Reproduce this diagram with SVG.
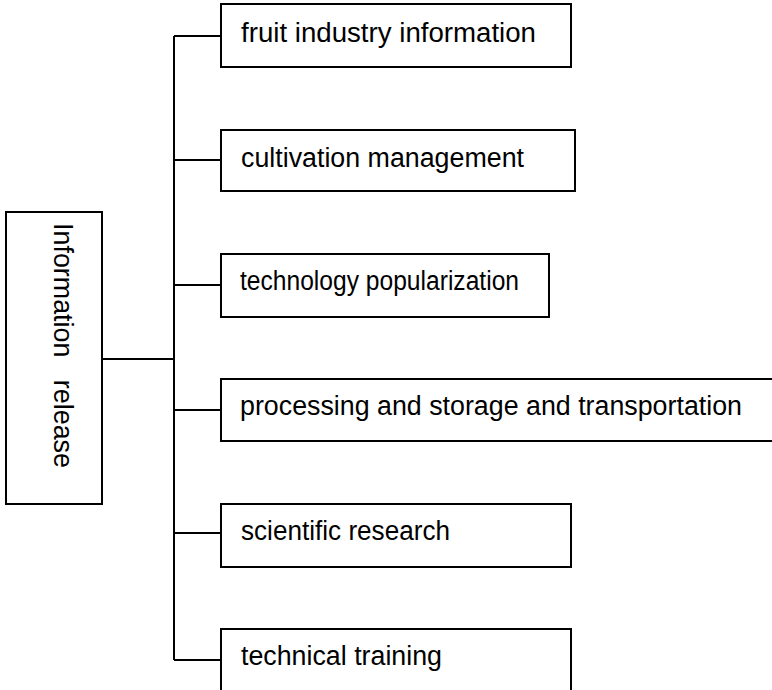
<svg xmlns="http://www.w3.org/2000/svg" width="772" height="690" viewBox="0 0 772 690">
<style>
.box{fill:#fff;stroke:#000;stroke-width:2}
.con{fill:none;stroke:#000;stroke-width:2}
.t{font-family:"Liberation Sans",Arial,sans-serif;font-size:27px;fill:#000}
</style>
<rect width="772" height="690" fill="#fff"/>
<g id="connectors">
<path class="con" d="M102,359H174M174,36V660M174,36H221M174,160H221M174,285H221M174,410H221M174,533H221M174,660H221"/>
</g>
<g id="root">
<rect class="box" x="6" y="212" width="96" height="292"/>
<text class="t" xml:space="preserve" transform="translate(54,223) rotate(90)" textLength="245" lengthAdjust="spacingAndGlyphs">Information   release</text>
</g>
<g id="n1">
<rect class="box" x="221" y="4" width="350" height="63"/>
<text class="t" x="241" y="42" textLength="295" lengthAdjust="spacingAndGlyphs">fruit industry information</text>
</g>
<g id="n2">
<rect class="box" x="221" y="130" width="354" height="61"/>
<text class="t" x="241" y="167" textLength="283" lengthAdjust="spacingAndGlyphs">cultivation management</text>
</g>
<g id="n3">
<rect class="box" x="221" y="254" width="328" height="63"/>
<text class="t" x="240" y="290" textLength="279" lengthAdjust="spacingAndGlyphs">technology popularization</text>
</g>
<g id="n4">
<path class="box" d="M772,379H221V441H772"/>
<text class="t" x="240" y="415" textLength="502" lengthAdjust="spacingAndGlyphs">processing and storage and transportation</text>
</g>
<g id="n5">
<rect class="box" x="221" y="504" width="350" height="63"/>
<text class="t" x="241" y="540" textLength="209" lengthAdjust="spacingAndGlyphs">scientific research</text>
</g>
<g id="n6">
<rect class="box" x="221" y="629" width="350" height="70"/>
<text class="t" x="241" y="665" textLength="201" lengthAdjust="spacingAndGlyphs">technical training</text>
</g>
</svg>
